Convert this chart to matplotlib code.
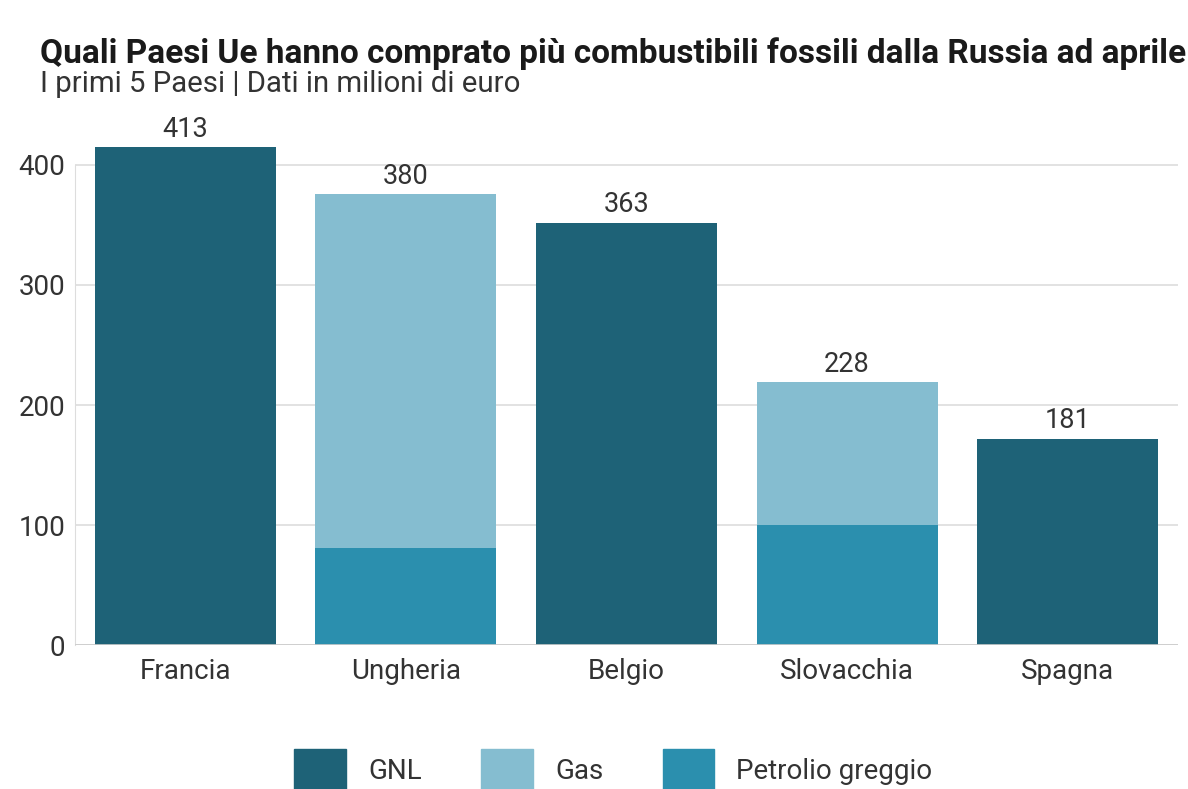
import matplotlib

matplotlib.use("Agg")

import matplotlib.pyplot as plt
from matplotlib.patches import Patch

plt.rcParams["font.family"] = ["Roboto", "DejaVu Sans"]

# data (milioni di euro)
paesi = ["Francia", "Ungheria", "Belgio", "Slovacchia", "Spagna"]
gnl = [415, 0, 352, 0, 172]
petrolio = [0, 81, 0, 100, 0]
gas = [0, 295, 0, 119, 0]
totali = ["413", "380", "363", "228", "181"]
yticks = [0, 100, 200, 300, 400]

c_gnl = "#1e6277"
c_gas = "#85bdd0"
c_petrolio = "#2b8fae"
c_text = "#333333"

fig = plt.figure(figsize=(11.88, 7.89), dpi=100)
ax = fig.add_axes([0.063, 0.1825, 0.9286, 0.6388])

x = list(range(len(paesi)))
w = 0.82
ax.bar(x, gnl, width=w, color=c_gnl, zorder=3)
ax.bar(x, petrolio, width=w, color=c_petrolio, zorder=3)
ax.bar(x, gas, width=w, bottom=petrolio, color=c_gas, zorder=3)

tops = [a + b + c for a, b, c in zip(gnl, petrolio, gas)]
for xi, top, lab in zip(x, tops, totali):
    ax.annotate(lab, (xi, top), xytext=(0, 3), textcoords="offset points",
                ha="center", va="bottom", fontsize=19.5, color=c_text)

ax.set_xlim(-0.5, 4.5)
ax.set_ylim(0, 420)
ax.set_yticks(yticks)
ax.set_xticks(x)
ax.set_xticklabels(paesi)
ax.tick_params(axis="both", length=0, labelsize=20, labelcolor=c_text)
ax.tick_params(axis="x", pad=9)
ax.tick_params(axis="y", pad=7)
ax.grid(axis="y", color="#dddddd", linewidth=1.2, zorder=0)
for s in ["top", "right", "bottom"]:
    ax.spines[s].set_visible(False)
ax.spines["left"].set_color("#dddddd")
ax.spines["left"].set_bounds(0, 400)
ax.axhline(0, color="#cccccc", linewidth=1.2, zorder=4)

fig.text(0.034, 0.932, "Quali Paesi Ue hanno comprato più combustibili fossili dalla Russia ad aprile",
         fontsize=24, fontweight="bold", color="#1a1a1a", va="center")
fig.text(0.034, 0.893, "I primi 5 Paesi | Dati in milioni di euro",
         fontsize=21.2, color=c_text, va="center")

handles = [Patch(color=c_gnl, label="GNL"),
           Patch(color=c_gas, label="Gas"),
           Patch(color=c_petrolio, label="Petrolio greggio")]
fig.legend(handles=handles, loc="center", bbox_to_anchor=(0.5164, 0.024), ncol=3,
           frameon=False, fontsize=20, handlelength=1.85, handleheight=1.95,
           handletextpad=0.8, columnspacing=2.15, labelcolor=c_text,
           borderpad=0, borderaxespad=0)

fig.savefig("out.png", dpi=100)
